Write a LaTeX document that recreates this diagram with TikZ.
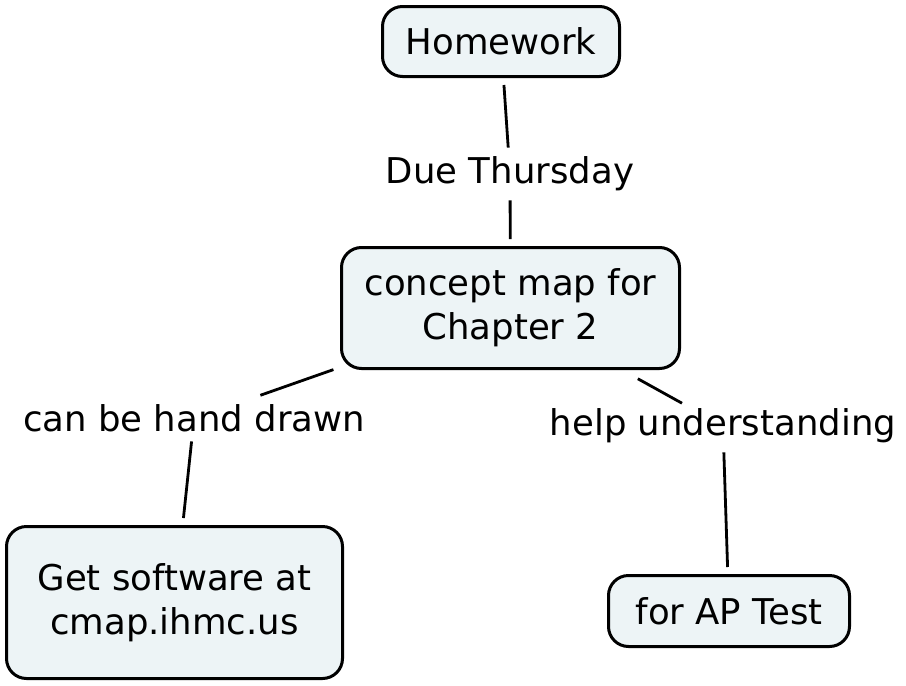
\documentclass[tikz,border=0pt]{standalone}
\usepackage{fontspec}
\setmainfont{DejaVu Sans}
\definecolor{boxfill}{RGB}{237,244,246}
\tikzset{
  concept/.style={draw, line width=3pt, fill=boxfill, rounded corners=20pt,
    align=center, font=\fontsize{35.5}{44}\selectfont},
  linkword/.style={inner sep=2pt, font=\fontsize{35.5}{44}\selectfont},
  link/.style={line width=2.8pt, shorten <=7pt, shorten >=7pt},
}
\begin{document}
\begin{tikzpicture}[x=1pt, y=-1pt]
  \useasboundingbox (0,0) rectangle (906,686);
  % Concepts
  \node[concept, minimum width=237pt, minimum height=70pt] (hw) at (501,41.5) {Homework};
  \node[concept, minimum width=338pt, minimum height=121pt] (cmap) at (510.5,308) {concept map for\\Chapter 2};
  \node[concept, minimum width=336pt, minimum height=152pt] (soft) at (174.5,602.5) {Get software at\ \\cmap.ihmc.us};
  \node[concept, minimum width=241pt, minimum height=71pt] (ap) at (729,611) {for AP Test};

  % Linking words
  \node[linkword] (due) at (510,174) {Due Thursday};
  \node[linkword] (hand) at (194,418.5) {can be hand drawn};
  \node[linkword] (help) at (723,426) {help understanding};

  \draw[link] (hw) -- (due);
  \draw[link] (due) -- (cmap);
  \draw[link, shorten >=22pt] (cmap) -- (hand);
  \draw[link] (hand) -- (soft);
  \draw[link, shorten <=18pt] (cmap) -- (help);
  \draw[link] (help) -- (ap);
\end{tikzpicture}
\end{document}
